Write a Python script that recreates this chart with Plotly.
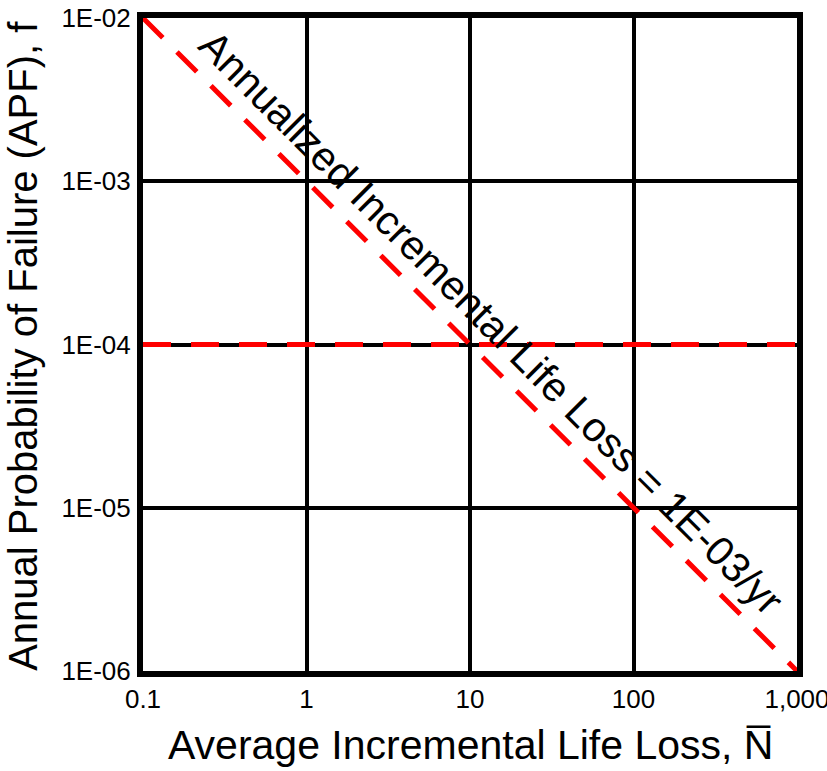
import plotly.graph_objects as go

# Data
diag_x = [0.1, 1000]
diag_y = [1e-2, 1e-6]
apf_limit_x = [0.1, 1000]
apf_limit_y = [1e-4, 1e-4]

x_tickvals = [0.1, 1, 10, 100, 1000]
x_ticktext = ["0.1", "1", "10", "100", "1,000"]
y_tickvals = [1e-6, 1e-5, 1e-4, 1e-3, 1e-2]
y_ticktext = ["1E-06", "1E-05", "1E-04", "1E-03", "1E-02"]

FONT = "Arial, Liberation Sans, sans-serif"
RED = "#ff0000"

fig = go.Figure()
fig.add_trace(go.Scatter(x=apf_limit_x, y=apf_limit_y, mode="lines",
                         line=dict(color=RED, width=5, dash="28px,20px"),
                         hoverinfo="skip", showlegend=False, cliponaxis=False))
fig.add_trace(go.Scatter(x=diag_x, y=diag_y, mode="lines",
                         line=dict(color=RED, width=5, dash="28px,20px"),
                         hoverinfo="skip", showlegend=False, cliponaxis=False))

fig.add_annotation(x=1.13, y=-3.87, xref="x", yref="y",
                   text="Annualized Incremental Life Loss = 1E-03/yr",
                   textangle=45, showarrow=False,
                   font=dict(family=FONT, size=41, color="black"))

# Axis titles
fig.add_annotation(x=0.5, y=0, xref="paper", yref="paper", yshift=-74,
                   xanchor="center", yanchor="middle", showarrow=False,
                   text="Average Incremental Life Loss, N\u0305",
                   font=dict(family=FONT, size=41, color="black"))
fig.add_annotation(x=0, y=0.498, xref="paper", yref="paper", xshift=-120,
                   xanchor="center", yanchor="middle", showarrow=False, textangle=-90,
                   text="Annual Probability of Failure (APF), f",
                   font=dict(family=FONT, size=40, color="black"))

fig.update_xaxes(type="log", range=[-1, 3], tickvals=x_tickvals, ticktext=x_ticktext,
                 showgrid=True, gridcolor="black", gridwidth=4,
                 showline=True, linecolor="black", linewidth=6, mirror=True,
                 ticks="", zeroline=False, automargin=False,
                 ticklabeloverflow="allow", ticklabelstandoff=0,
                 tickfont=dict(family=FONT, size=26, color="black"))
fig.update_yaxes(type="log", range=[-6, -2], tickvals=y_tickvals, ticktext=y_ticktext,
                 showgrid=True, gridcolor="black", gridwidth=4,
                 showline=True, linecolor="black", linewidth=6, mirror=True,
                 ticks="", zeroline=False, automargin=False,
                 ticklabeloverflow="allow", ticklabelstandoff=1,
                 tickfont=dict(family=FONT, size=26, color="black"))

fig.update_layout(width=827, height=771,
                  margin=dict(l=143, r=30, t=18, b=100),
                  plot_bgcolor="white", paper_bgcolor="white",
                  showlegend=False)

fig.write_html("out.html", config={"displayModeBar": False},
               post_script="document.body.style.margin='0';document.body.style.overflow='hidden';")
